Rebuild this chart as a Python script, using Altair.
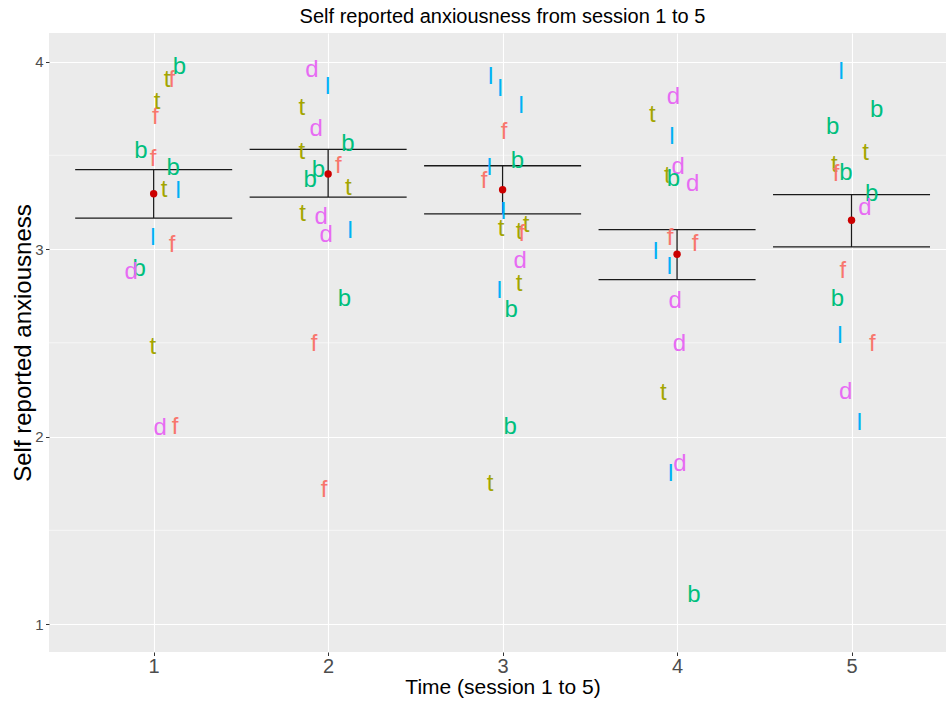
import altair as alt
import pandas as pd

# ---- summary per session (mean and mean +/- SE) ----
sessions = [1, 2, 3, 4, 5]
means = [3.295, 3.400, 3.316, 2.972, 3.153]
lower = [3.165, 3.277, 3.187, 2.837, 3.011]
upper = [3.423, 3.531, 3.444, 3.103, 3.290]

# ---- individual (jittered) observations, labelled by participant letter ----
s1_letter = ["f", "f", "f", "f", "f", "t", "t", "t", "t", "b", "b", "b", "b", "l", "l", "d", "d"]
s1_x = [1.104, 1.009, 0.997, 1.106, 1.123, 1.077, 1.020, 1.060, 0.995, 1.148, 0.927, 1.112, 0.917, 1.140, 0.995, 0.871, 1.037]
s1_y = [3.91, 3.71, 3.49, 3.029, 2.06, 3.91, 3.79, 3.325, 2.487, 3.98, 3.53, 3.44, 2.90, 3.32, 3.069, 2.886, 2.051]

s2_letter = ["d", "l", "t", "d", "b", "t", "f", "b", "b", "t", "t", "d", "d", "l", "b", "f", "f"]
s2_x = [1.907, 1.998, 1.849, 1.931, 2.113, 1.849, 2.059, 1.944, 1.897, 2.116, 1.853, 1.960, 1.989, 2.126, 2.093, 1.920, 1.977]
s2_y = [3.961, 3.872, 3.76, 3.65, 3.567, 3.526, 3.45, 3.428, 3.375, 3.334, 3.197, 3.18, 3.082, 3.105, 2.744, 2.50, 1.723]

s3_letter = ["l", "l", "l", "f", "b", "l", "f", "l", "t", "t", "t", "f", "d", "t", "l", "b", "b", "t"]
s3_x = [2.932, 2.986, 3.106, 3.009, 3.085, 2.924, 2.894, 3.005, 2.991, 3.095, 3.135, 3.110, 3.100, 3.095, 2.982, 3.049, 3.043, 2.928]
s3_y = [3.925, 3.863, 3.771, 3.632, 3.476, 3.442, 3.37, 3.206, 3.117, 3.10, 3.135, 3.09, 2.945, 2.819, 2.783, 2.682, 2.06, 1.755]

s4_letter = ["d", "t", "l", "d", "t", "b", "d", "f", "f", "l", "l", "d", "d", "t", "d", "l", "b"]
s4_x = [3.979, 3.858, 3.970, 4.007, 3.944, 3.979, 4.090, 3.960, 4.103, 3.878, 3.956, 3.989, 4.013, 3.921, 4.017, 3.964, 4.097]
s4_y = [3.819, 3.725, 3.606, 3.446, 3.398, 3.38, 3.354, 3.068, 3.037, 2.993, 2.913, 2.73, 2.504, 2.242, 1.86, 1.808, 1.164]

s5_letter = ["l", "b", "b", "t", "t", "f", "b", "b", "d", "f", "b", "l", "f", "d", "l"]
s5_x = [4.940, 5.144, 4.892, 5.081, 4.901, 4.911, 4.968, 5.116, 5.077, 4.950, 4.919, 4.934, 5.119, 4.967, 5.045]
s5_y = [3.952, 3.748, 3.659, 3.52, 3.455, 3.407, 3.414, 3.304, 3.229, 2.89, 2.744, 2.544, 2.504, 2.247, 2.078]

letter_order = ["f", "t", "b", "l", "d"]
letter_colors = ["#F8766D", "#A3A500", "#00BF7D", "#00B0F6", "#E76BF3"]

y_ticks = [1, 2, 3, 4]
y_minor = [1.5, 2.5, 3.5]

# ---- build tables ----
rows = []
for s, L, X, Y in [(1, s1_letter, s1_x, s1_y), (2, s2_letter, s2_x, s2_y),
                   (3, s3_letter, s3_x, s3_y), (4, s4_letter, s4_x, s4_y),
                   (5, s5_letter, s5_x, s5_y)]:
    for l, x, y in zip(L, X, Y):
        rows.append({"session": s, "letter": l, "xj": x, "value": y})
pts = pd.DataFrame(rows)
summ = pd.DataFrame({"session": sessions, "mean": means, "lo": lower, "hi": upper})
minor = pd.DataFrame({"v": y_minor})

FONT = "Liberation Sans"
xscale = alt.Scale(domain=[0.4, 5.5415], nice=False, zero=False)
yscale = alt.Scale(domain=[0.851, 4.152], nice=False, zero=False)

x_axis = alt.Axis(
    title="Time (session 1 to 5)", values=sessions, format="d",
    grid=True, gridColor="white", gridWidth=1.1,
    domain=False, ticks=True, tickColor="#333333", tickSize=3.5, tickWidth=1,
    labelFont=FONT, labelFontSize=20, labelColor="#4D4D4D", labelPadding=1,
    titleFont=FONT, titleFontSize=21, titleFontWeight="normal", titleColor="black",
    titleBaseline="alphabetic", titleX=453.5, titleY=41, titleAlign="center",
)
y_axis = alt.Axis(
    title="Self reported anxiousness", values=y_ticks, format="d",
    grid=True, gridColor="white", gridWidth=1.1,
    domain=False, ticks=True, tickColor="#333333", tickSize=3.5, tickWidth=1,
    labelFont=FONT, labelFontSize=15, labelColor="#4D4D4D", labelPadding=2.5,
    titleFont=FONT, titleFontSize=24, titleFontWeight="normal", titleColor="black",
    titleBaseline="alphabetic", titleX=-19, titleY=309.5, titleAlign="center", titleAngle=270,
)

minor_grid = alt.Chart(minor).mark_rule(color="white", strokeWidth=0.55).encode(
    y=alt.Y("v:Q", scale=yscale, axis=y_axis)
)

bars_h = alt.Chart(summ).transform_fold(["lo", "hi"], as_=["which", "yv"]).transform_calculate(
    x1="datum.session - 0.45", x2="datum.session + 0.45"
).mark_rule(color="#1a1a1a", strokeWidth=1.3).encode(
    x=alt.X("x1:Q", scale=xscale, axis=x_axis),
    x2="x2:Q",
    y=alt.Y("yv:Q", scale=yscale, axis=y_axis),
)

bars_v = alt.Chart(summ).mark_rule(color="#1a1a1a", strokeWidth=1.3).encode(
    x=alt.X("session:Q", scale=xscale, axis=x_axis),
    y=alt.Y("lo:Q", scale=yscale, axis=y_axis),
    y2="hi:Q",
)

letters = alt.Chart(pts).mark_text(
    font=FONT, fontSize=24, align="center", baseline="middle", dy=1.5
).encode(
    x=alt.X("xj:Q", scale=xscale, axis=x_axis),
    y=alt.Y("value:Q", scale=yscale, axis=y_axis),
    text="letter:N",
    color=alt.Color("letter:N", scale=alt.Scale(domain=letter_order, range=letter_colors), legend=None),
)

mean_pt = alt.Chart(summ).mark_circle(color="#CC0000", size=55, opacity=1).encode(
    x=alt.X("session:Q", scale=xscale, axis=x_axis),
    y=alt.Y("mean:Q", scale=yscale, axis=y_axis),
)

chart = alt.layer(minor_grid, bars_h, bars_v, letters, mean_pt).properties(
    width=897, height=619,
    autosize="none",
    background="white",
    padding={"left": 49, "top": 33, "right": 0, "bottom": 49},
    title=alt.TitleParams(
        text="Self reported anxiousness from session 1 to 5",
        font=FONT, fontSize=20, fontWeight="normal", color="black",
        anchor="middle", baseline="alphabetic", offset=10, dx=5, dy=20,
    ),
).configure_view(fill="#EBEBEB", stroke=None)

chart.save("out.html", embed_options={"renderer": "svg", "actions": False})
